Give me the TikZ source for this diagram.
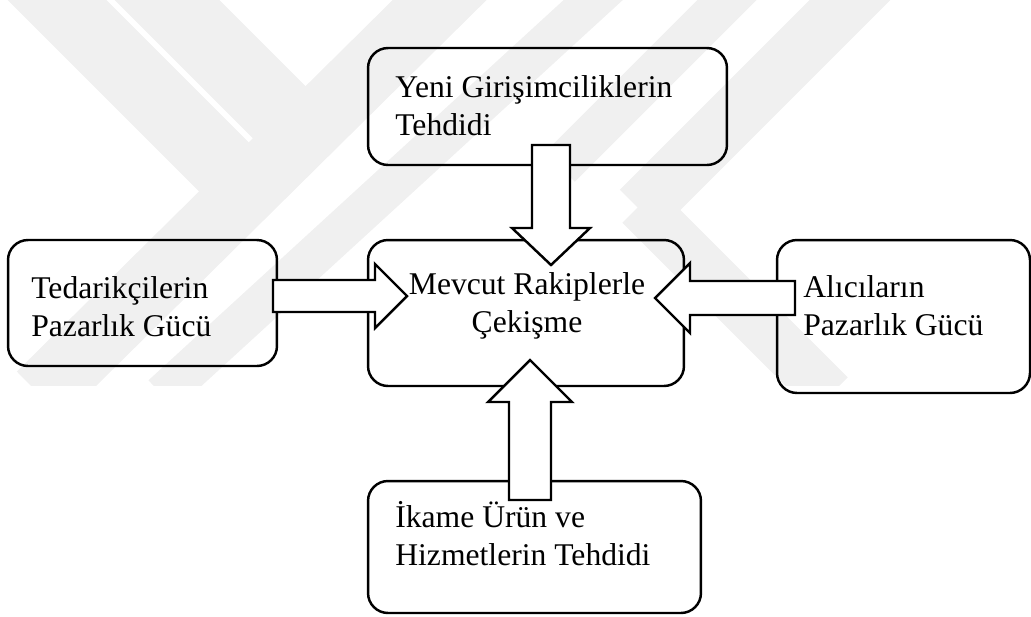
\documentclass[tikz,border=0pt]{standalone}
\usepackage{fontspec}
\setmainfont{Liberation Serif}
\usetikzlibrary{calc}

% block arrow: tail, tip, half shaft, half head, head length
\newcommand{\fatarrow}[5]{%
  \coordinate (hb) at ($(#2)!#5!(#1)$);
  \draw[blk] ($(#1)!#3!90:(#2)$) -- ($(hb)!#3!-90:(#1)$) -- ($(hb)!#4!-90:(#1)$)
    -- (#2) -- ($(hb)!#4!90:(#1)$) -- ($(hb)!#3!90:(#1)$) -- ($(#1)!#3!-90:(#2)$) -- cycle;}

\begin{document}
\begin{tikzpicture}[
  x=0.02cm, y=-0.02cm,
  box/.style={rectangle, rounded corners=0.4cm, draw, line width=1.4pt, inner sep=0pt},
  txt/.style={inner sep=0pt, font=\fontsize{18}{21.6}\selectfont, align=left, anchor=north west},
  blk/.style={draw, line width=1.4pt, fill=white},
  wm/.style={black!6, line width=#1},
]
\useasboundingbox (0,0) rectangle (1031,616);
% faint logo in the background
\begin{scope}
\clip (0,0) rectangle (1031,385);
\draw[wm=1.4cm]  (27,-30)  -- (262,205);
\draw[wm=1.48cm] (137,-30) -- (300,133);
\draw[wm=1.32cm] (470,-30) -- (40,395);
\draw[wm=0.8cm]  (626,-30) -- (162,395);
\draw[wm=0.84cm] (757,-30) -- (560,167);
\draw[wm=1.14cm] (880,-30) -- (640,210);
\draw[wm=1.0cm]  (640,205) -- (830,395);
\end{scope}

\node[box, minimum width=7.18cm, minimum height=2.34cm] (ent) at (547.5,106.5) {};
\node[box, minimum width=6.32cm, minimum height=2.92cm] (riv) at (526,313)     {};
\node[box, minimum width=5.38cm, minimum height=2.52cm] (sup) at (142.5,303)   {};
\node[box, minimum width=5.06cm, minimum height=3.06cm] (buy) at (903.5,316.5) {};
\node[box, minimum width=6.66cm, minimum height=2.64cm] (sub) at (534.5,547)   {};

\coordinate (a1) at (551,145); \coordinate (b1) at (551,265);
\coordinate (a2) at (273,296); \coordinate (b2) at (407,296);
\coordinate (a3) at (795,298); \coordinate (b3) at (655,298);
\coordinate (a4) at (530,500); \coordinate (b4) at (530,360);
\fatarrow{a1}{b1}{0.38cm}{0.78cm}{0.74cm}
\fatarrow{a2}{b2}{0.32cm}{0.64cm}{0.64cm}
\fatarrow{a3}{b3}{0.34cm}{0.70cm}{0.70cm}
\fatarrow{a4}{b4}{0.42cm}{0.84cm}{0.84cm}

\node[txt] (entt) at (395,70.3)  {\strut Yeni Girişimciliklerin\\Tehdidi};
\node[txt, align=center, anchor=north] (rivt) at (527,267.3) {\strut Mevcut Rakiplerle\\Çekişme};
\node[txt] (supt) at (31,271.3)  {\strut Tedarikçilerin\\Pazarlık Gücü};
\node[txt] (buyt) at (803,270.3) {\strut Alıcıların\\Pazarlık Gücü};
\node[txt] (subt) at (395,500.3) {\strut İkame Ürün ve\\Hizmetlerin Tehdidi};
\end{tikzpicture}
\end{document}
